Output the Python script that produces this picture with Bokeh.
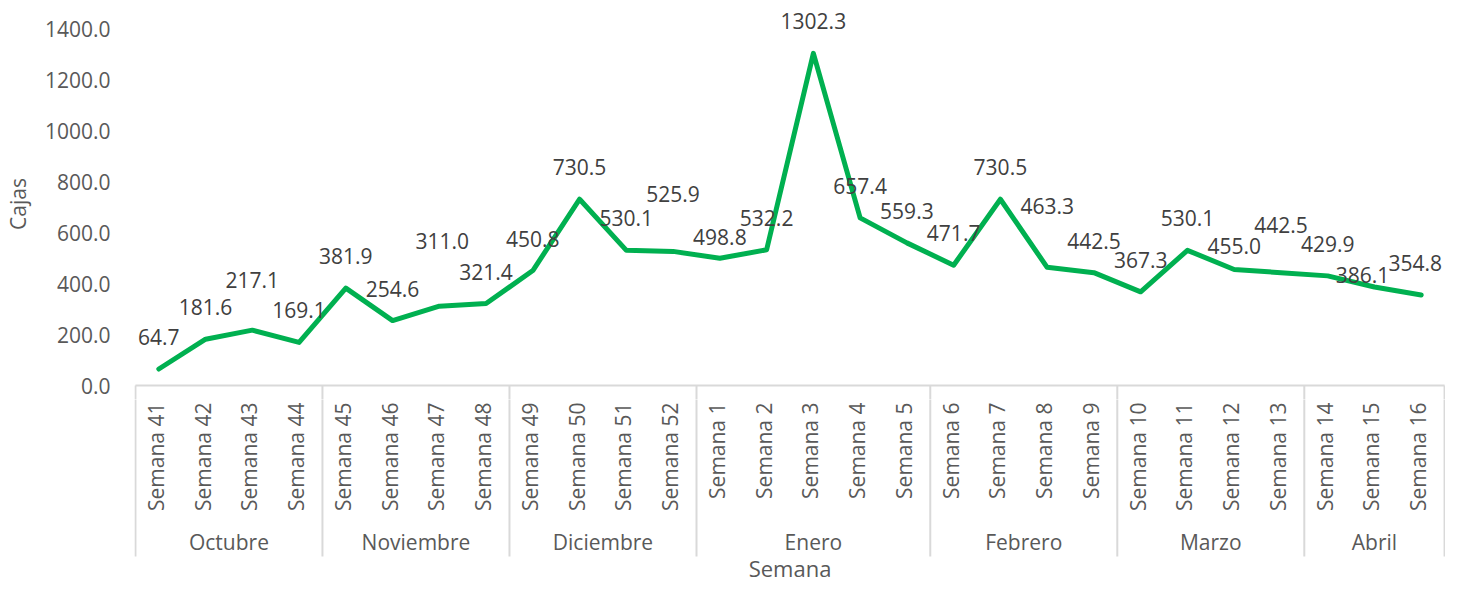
from bokeh.plotting import figure
from bokeh.models import Range1d, FixedTicker, PrintfTickFormatter, ColumnDataSource, LabelSet
from bokeh.layouts import column
from bokeh.embed import file_html
from bokeh.resources import INLINE
from bokeh.core.properties import value

# ---------------- data ----------------
months = ["Octubre", "Noviembre", "Diciembre", "Enero", "Febrero", "Marzo", "Abril"]
weeks_per_month = [
    ["Semana 41", "Semana 42", "Semana 43", "Semana 44"],
    ["Semana 45", "Semana 46", "Semana 47", "Semana 48"],
    ["Semana 49", "Semana 50", "Semana 51", "Semana 52"],
    ["Semana 1", "Semana 2", "Semana 3", "Semana 4", "Semana 5"],
    ["Semana 6", "Semana 7", "Semana 8", "Semana 9"],
    ["Semana 10", "Semana 11", "Semana 12", "Semana 13"],
    ["Semana 14", "Semana 15", "Semana 16"],
]
cajas = [64.7, 181.6, 217.1, 169.1, 381.9, 254.6, 311.0, 321.4, 450.8, 730.5,
         530.1, 525.9, 498.8, 532.2, 1302.3, 657.4, 559.3, 471.7, 730.5, 463.3,
         442.5, 367.3, 530.1, 455.0, 442.5, 429.9, 386.1, 354.8]
y_ticks = [0, 200, 400, 600, 800, 1000, 1200, 1400]
y_title = "Cajas"
x_title = "Semana"

# label nudges (screen px) for data labels
label_dx = [0] * len(cajas)
label_dy = [32] * len(cajas)
for i, dy in {2: 50, 6: 65, 11: 57, 12: 21, 19: 61, 23: 23, 24: 48, 26: 12}.items():
    label_dy[i] = dy
label_dx[6] = 3
label_dx[26] = -12
label_dx[27] = -6

# ---------------- derived ----------------
weeks = [w for ws in weeks_per_month for w in ws]
xs = list(range(len(weeks)))
bounds = [-0.5]
for ws in weeks_per_month:
    bounds.append(bounds[-1] + len(ws))
mid = [(bounds[i] + bounds[i + 1]) / 2 for i in range(len(months))]

FONT = "Open Sans"
GRAY = "#595959"
DARK = "#404040"
GREEN = "#00B050"
AXIS = "#D9D9D9"

W = 1445
LEFT = 124
x_range = Range1d(-0.52, len(weeks) - 0.48)

# scale: 357 px for 1400 units
upp = 1400 / 357.0
pad_top = 20 * upp
pad_bot = 14 * upp
H1 = 399
p1 = figure(width=W, height=H1, x_range=x_range,
            y_range=Range1d(-pad_bot, 1400 + pad_top),
            x_axis_type=None, toolbar_location=None, output_backend="svg",
            min_border_left=LEFT, min_border_right=0, min_border_top=8,
            min_border_bottom=0, outline_line_color=None)
p1.grid.visible = False
p1.yaxis.bounds = (0, 1400)
p1.yaxis.ticker = FixedTicker(ticks=y_ticks)
p1.yaxis.formatter = PrintfTickFormatter(format="%.1f")
p1.yaxis.axis_line_color = None
p1.yaxis.major_tick_line_color = None
p1.yaxis.minor_tick_line_color = None
p1.yaxis.major_tick_out = 0
p1.yaxis.major_label_standoff = 24
p1.yaxis.major_label_text_font = FONT
p1.yaxis.major_label_text_font_size = "21px"
p1.yaxis.major_label_text_color = GRAY
p1.yaxis.axis_label = y_title
p1.yaxis.axis_label_text_font = FONT
p1.yaxis.axis_label_text_font_size = "21px"
p1.yaxis.axis_label_text_font_style = "normal"
p1.yaxis.axis_label_text_color = GRAY
p1.yaxis.axis_label_standoff = 10

# category box top line and separators (part inside the top figure)
p1.segment(x0=[bounds[0]], y0=[0], x1=[bounds[-1]], y1=[0], line_color=AXIS, line_width=2)
p1.segment(x0=bounds, y0=[0] * len(bounds), x1=bounds, y1=[-pad_bot * 2] * len(bounds),
           line_color=AXIS, line_width=2)

src = ColumnDataSource(dict(x=xs, y=cajas, lab=[f"{v:.1f}" for v in cajas],
                            dx=label_dx, dy=label_dy))
p1.line("x", "y", source=src, line_color=GREEN, line_width=5,
        line_join="round", line_cap="round")
labels = LabelSet(x="x", y="y", text="lab", source=src, x_offset="dx", y_offset="dy",
                  text_align="center", text_baseline="middle",
                  text_font=value(FONT), text_font_size="21px", text_color=DARK)
p1.add_layout(labels)

# ---------------- category axis (bottom) ----------------
H2 = 182
p2 = figure(width=W, height=H2, x_range=x_range, y_range=Range1d(-H2, 0),
            x_axis_type=None, y_axis_type=None, toolbar_location=None,
            output_backend="svg", min_border_left=LEFT, min_border_right=0,
            min_border_top=0, min_border_bottom=0, outline_line_color=None)
p2.grid.visible = False
p2.segment(x0=bounds, y0=[1] * len(bounds), x1=bounds, y1=[-157] * len(bounds),
           line_color=AXIS, line_width=2)
p2.text(x=xs, y=[-3] * len(xs), text=weeks, angle=1.5707963, text_align="right",
        text_baseline="middle", x_offset=-3, text_font=value(FONT),
        text_font_size="21px", text_color=GRAY)
p2.text(x=mid, y=[-142] * len(mid), text=months, text_align="center",
        text_baseline="middle", text_font=value(FONT), text_font_size="21px",
        text_color=GRAY)
p2.text(x=[(bounds[0] + bounds[-1]) / 2], y=[-168], text=[x_title], text_align="center",
        text_baseline="middle", text_font=value(FONT), text_font_size="22px",
        text_color=GRAY)

layout = column(p1, p2, spacing=0)
open("out.html", "w").write(file_html(layout, INLINE))
